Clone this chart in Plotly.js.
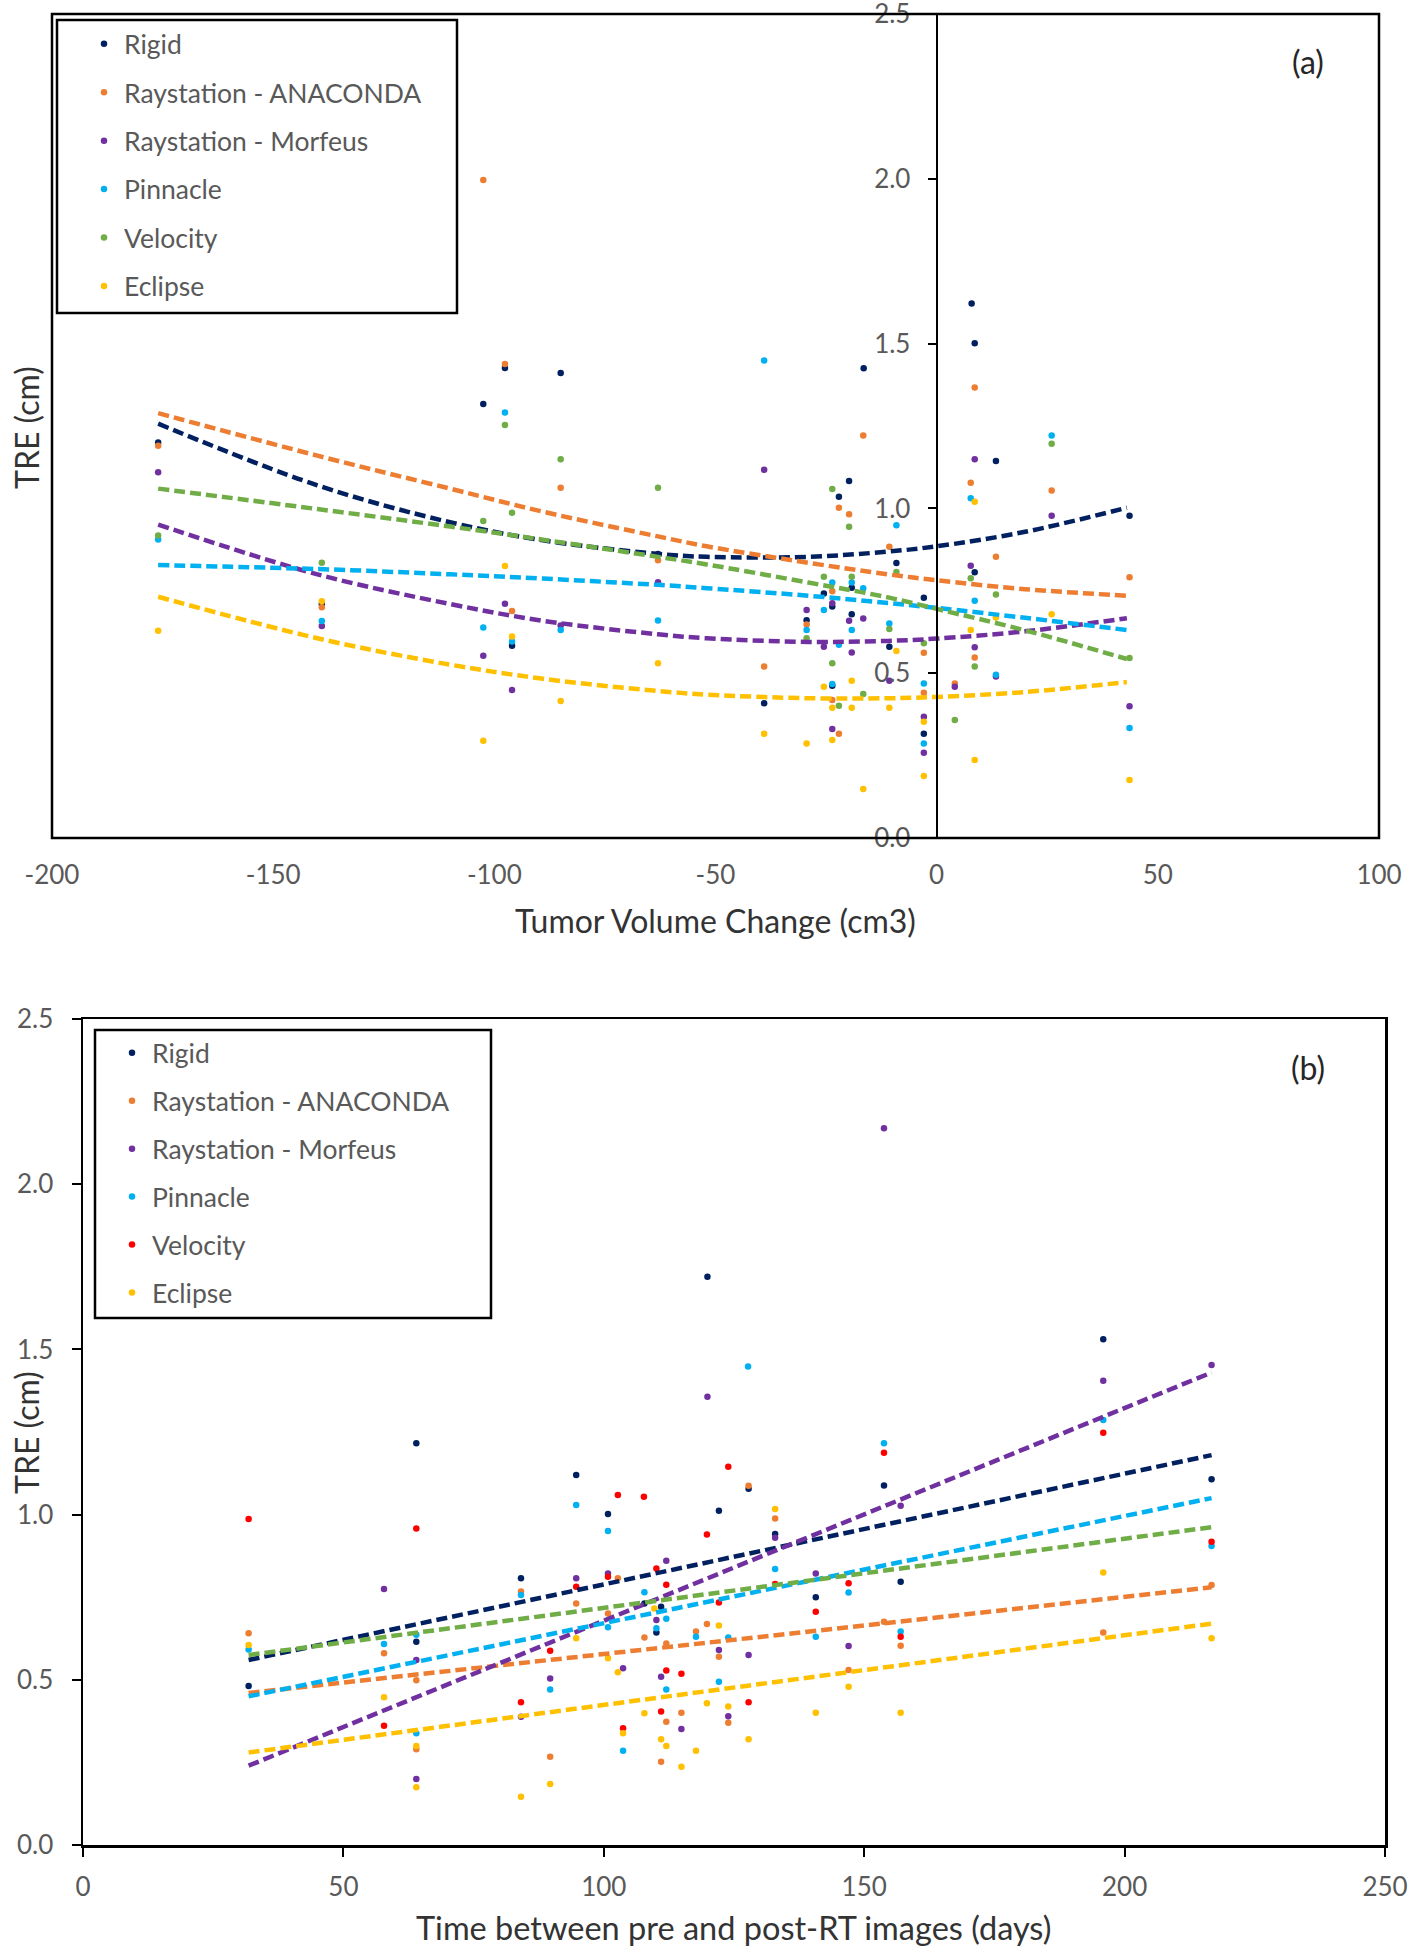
<!DOCTYPE html>
<html>
<head>
<meta charset="utf-8">
<script src="https://cdn.plot.ly/plotly-3.0.1.min.js"></script>
<style>html,body{margin:0;padding:0;background:#fff}#chart{width:1416px;height:1950px}</style>
</head>
<body>
<div id="chart"></div>
<script>
// ---------- series names & colours ----------
const seriesNames = ["Rigid", "Raystation - ANACONDA", "Raystation - Morfeus", "Pinnacle", "Velocity", "Eclipse"];
const colorsA = ["#002060", "#ED7D31", "#7030A0", "#00B0F0", "#70AD47", "#FFC000"];
const colorsB = ["#002060", "#ED7D31", "#7030A0", "#00B0F0", "#FF0000", "#FFC000"];
const trendColorsB = ["#002060", "#ED7D31", "#7030A0", "#00B0F0", "#70AD47", "#FFC000"];

// ---------- panel (a): TRE vs tumor volume change (cm3) ----------
const aRigidX = [-176, -139, -102.5, -97.6, -96, -85, -63, -39, -29.4, -25.5, -23.6, -23.6, -22.1, -19.8, -19.2, -19.2, -16.5, -10.7, -9.1, -2.9, -2.9, 7.9, 8.6, 8.6, 13.4, 43.6];
const aRigidY = [1.20, 0.71, 1.317, 1.426, 0.583, 1.411, 0.862, 0.409, 0.661, 0.742, 0.702, 0.462, 1.035, 1.083, 0.759, 0.679, 1.425, 0.58, 0.834, 0.729, 0.316, 1.622, 1.501, 0.806, 1.144, 0.978];
const aAnaX = [-176, -139, -102.5, -97.6, -96, -85, -63, -39, -29.4, -23.6, -23.6, -22.1, -22.1, -19.8, -16.6, -10.7, -2.9, -2.9, 4.1, 7.7, 8.6, 8.6, 13.4, 26, 43.6];
const aAnaY = [1.19, 0.70, 1.996, 1.438, 0.689, 1.063, 0.843, 0.52, 0.648, 0.749, 0.419, 1.002, 0.316, 0.982, 1.221, 0.884, 0.562, 0.441, 0.469, 1.078, 1.367, 0.548, 0.853, 1.054, 0.791];
const aMorfX = [-176, -139, -102.5, -97.6, -96, -85, -63, -39, -29.4, -25.5, -23.6, -23.6, -19.8, -19.2, -16.6, -10.7, -2.9, -2.9, 4.1, 7.7, 8.6, 8.6, 13.4, 26, 43.6];
const aMorfY = [1.11, 0.643, 0.553, 0.711, 0.449, 0.645, 0.776, 1.117, 0.692, 0.58, 0.712, 0.331, 0.659, 0.563, 0.666, 0.477, 0.368, 0.259, 0.459, 0.826, 1.149, 0.579, 0.49, 0.978, 0.40];
const aPinnX = [-176, -139, -102.5, -97.6, -96, -85, -63, -39, -29.4, -25.5, -23.6, -23.6, -22.1, -19.2, -19.2, -16.6, -10.7, -9.1, -2.9, -2.9, 7.7, 8.6, 13.4, 26, 43.6];
const aPinnY = [0.906, 0.658, 0.639, 1.291, 0.596, 0.631, 0.66, 1.449, 0.631, 0.692, 0.775, 0.467, 0.586, 0.775, 0.631, 0.758, 0.651, 0.949, 0.469, 0.287, 1.031, 0.72, 0.495, 1.221, 0.334];
const aVelX = [-176, -139, -102.5, -97.6, -96, -85, -63, -29.4, -25.5, -23.6, -23.6, -22.1, -19.8, -19.2, -16.6, -10.7, -9.1, -2.9, 4.1, 7.7, 8.6, 13.4, 26, 43.6];
const aVelY = [0.918, 0.835, 0.962, 1.253, 0.987, 1.149, 1.063, 0.606, 0.793, 1.059, 0.53, 0.401, 0.944, 0.793, 0.437, 0.634, 0.807, 0.591, 0.358, 0.788, 0.52, 0.739, 1.196, 0.546];
const aEclX = [-176, -139, -102.5, -97.6, -96, -85, -63, -39, -29.4, -25.5, -23.6, -23.6, -19.2, -19.2, -16.6, -10.7, -9.1, -2.9, -2.9, 7.7, 8.6, 8.6, 13.4, 26, 43.6];
const aEclY = [0.629, 0.718, 0.295, 0.825, 0.611, 0.416, 0.53, 0.316, 0.287, 0.459, 0.395, 0.297, 0.477, 0.395, 0.149, 0.395, 0.567, 0.353, 0.188, 0.631, 1.02, 0.237, 0.669, 0.679, 0.176];

// polynomial trendlines of panel (a)
const aTrendX = [-176, -140, -110, -89, -63, -52, -29, -11, 0, 20, 43];
const aTrendRigid = [1.257, 1.07, 0.958, 0.903, 0.862, 0.853, 0.853, 0.869, 0.885, 0.929, 1.002];
const aTrendAna = [1.289, 1.16, 1.06, 0.99, 0.915, 0.885, 0.835, 0.80, 0.782, 0.755, 0.735];
const aTrendMorf = [0.951, 0.80, 0.71, 0.659, 0.618, 0.606, 0.595, 0.598, 0.605, 0.627, 0.667];
const aTrendPinn = [0.828, 0.816, 0.80, 0.787, 0.768, 0.758, 0.735, 0.713, 0.698, 0.668, 0.631];
const aTrendVel = [1.06, 0.998, 0.945, 0.905, 0.853, 0.83, 0.775, 0.73, 0.695, 0.63, 0.543];
const aTrendEcl = [0.732, 0.606, 0.526, 0.483, 0.446, 0.435, 0.424, 0.424, 0.428, 0.443, 0.473];

// ---------- panel (b): TRE vs time between pre and post-RT images (days) ----------
const bRigidX = [31.8, 64, 64, 84.1, 94.7, 100.8, 107.8, 110.1, 111, 119.9, 122.1, 127.8, 132.9, 140.7, 153.8, 157, 195.9, 216.7];
const bRigidY = [0.481, 1.216, 0.615, 0.807, 1.12, 1.002, 0.731, 0.643, 0.721, 1.72, 1.012, 1.078, 0.941, 0.75, 1.088, 0.797, 1.531, 1.107];
const bAnaX = [31.8, 57.8, 64, 64, 84.1, 89.7, 94.7, 100.8, 102.7, 107.8, 111, 112, 112, 114.9, 117.7, 119.8, 122.1, 123.9, 127.8, 132.9, 147, 153.8, 157, 195.9, 216.7];
const bAnaY = [0.641, 0.58, 0.499, 0.29, 0.767, 0.267, 0.731, 0.701, 0.807, 0.628, 0.252, 0.61, 0.373, 0.40, 0.646, 0.669, 0.57, 0.37, 1.087, 0.988, 0.53, 0.676, 0.603, 0.643, 0.787];
const bMorfX = [57.8, 64, 64, 84.1, 89.7, 94.7, 100.8, 103.7, 110.1, 111, 112, 114.9, 119.9, 122.1, 123.9, 127.8, 132.9, 140.7, 147, 153.8, 157, 195.9, 216.7];
const bMorfY = [0.775, 0.56, 0.20, 0.388, 0.504, 0.807, 0.822, 0.535, 0.681, 0.509, 0.86, 0.351, 1.357, 0.59, 0.39, 0.575, 0.93, 0.822, 0.602, 2.169, 1.027, 1.405, 1.453];
const bPinnX = [31.8, 57.8, 64, 64, 84.1, 89.7, 94.7, 100.8, 100.8, 103.7, 107.8, 110.1, 112, 112, 117.7, 122.1, 123.9, 127.7, 132.9, 140.7, 147, 153.8, 157, 195.9, 216.7];
const bPinnY = [0.592, 0.608, 0.636, 0.338, 0.757, 0.471, 1.029, 0.95, 0.659, 0.285, 0.765, 0.656, 0.685, 0.471, 0.63, 0.494, 0.628, 1.448, 0.835, 0.63, 0.764, 1.216, 0.646, 1.286, 0.905];
const bVelX = [31.8, 57.8, 64, 84.1, 89.7, 94.7, 100.8, 102.7, 103.7, 107.7, 110.1, 111, 112, 112, 114.9, 119.8, 122.1, 123.9, 127.8, 132.9, 140.7, 147, 153.8, 157, 195.9, 216.7];
const bVelY = [0.987, 0.361, 0.958, 0.432, 0.588, 0.782, 0.812, 1.059, 0.353, 1.054, 0.837, 0.404, 0.788, 0.528, 0.518, 0.94, 0.734, 1.145, 0.432, 0.79, 0.706, 0.792, 1.187, 0.63, 1.248, 0.918];
const bEclX = [31.8, 57.8, 64, 64, 84.1, 89.7, 94.7, 100.8, 102.7, 103.7, 107.8, 109.7, 111, 112, 114.9, 117.7, 119.8, 122.1, 123.9, 127.8, 132.9, 140.7, 147, 157, 195.9, 216.7];
const bEclY = [0.605, 0.447, 0.30, 0.175, 0.146, 0.185, 0.626, 0.565, 0.523, 0.338, 0.399, 0.716, 0.32, 0.30, 0.237, 0.285, 0.429, 0.664, 0.419, 0.32, 1.017, 0.40, 0.479, 0.40, 0.825, 0.626];

// linear trendlines of panel (b), end values
const bTrendX = [31.8, 216.7];
const bTrendRigid = [0.56, 1.18];
const bTrendAna = [0.46, 0.78];
const bTrendMorf = [0.24, 1.43];
const bTrendPinn = [0.45, 1.05];
const bTrendVel = [0.575, 0.962];
const bTrendEcl = [0.28, 0.67];

// ---------- axis settings ----------
const xRangeA = [-200, 100];
const xTickValsA = [-200, -150, -100, -50, 0, 50, 100];
const xTickTextA = ["-200", "-150", "-100", "-50", "0", "50", "100"];
const xRangeB = [0, 250];
const yRange = [0, 2.5];
const xTickStep = 50;
const yTickStep = 0.5;

// ---------- build traces ----------
const W = 1416, H = 1950;
const aX = [aRigidX, aAnaX, aMorfX, aPinnX, aVelX, aEclX];
const aY = [aRigidY, aAnaY, aMorfY, aPinnY, aVelY, aEclY];
const aT = [aTrendRigid, aTrendAna, aTrendMorf, aTrendPinn, aTrendVel, aTrendEcl];
const bX = [bRigidX, bAnaX, bMorfX, bPinnX, bVelX, bEclX];
const bY = [bRigidY, bAnaY, bMorfY, bPinnY, bVelY, bEclY];
const bT = [bTrendRigid, bTrendAna, bTrendMorf, bTrendPinn, bTrendVel, bTrendEcl];

const traces = [];
seriesNames.forEach((n, i) => {
  traces.push({type: 'scatter', mode: 'markers', x: aX[i], y: aY[i], name: n,
    xaxis: 'x', yaxis: 'y', legend: 'legend', legendgroup: 'a' + i,
    marker: {color: colorsA[i], size: 6.5}, cliponaxis: false});
});
seriesNames.forEach((n, i) => {
  traces.push({type: 'scatter', mode: 'markers', x: bX[i], y: bY[i], name: n,
    xaxis: 'x2', yaxis: 'y2', legend: 'legend2', legendgroup: 'b' + i,
    marker: {color: colorsB[i], size: 6.5}, cliponaxis: false});
});
seriesNames.forEach((n, i) => {
  traces.push({type: 'scatter', mode: 'lines', x: aTrendX, y: aT[i], name: n + ' trend',
    xaxis: 'x', yaxis: 'y', showlegend: false, legendgroup: 'a' + i, hoverinfo: 'skip',
    line: {color: colorsA[i], width: 4.5, dash: '11px,5px', shape: 'spline', smoothing: 1}});
});
seriesNames.forEach((n, i) => {
  traces.push({type: 'scatter', mode: 'lines', x: bTrendX, y: bT[i], name: n + ' trend',
    xaxis: 'x2', yaxis: 'y2', showlegend: false, legendgroup: 'b' + i, hoverinfo: 'skip',
    line: {color: trendColorsB[i], width: 4.5, dash: '11px,5px'}});
});

// ---------- layout ----------
const xDomA = [52 / W, 1379 / W];
const yDomA = [1 - 838 / H, 1 - 14 / H];
const xDomB = [83 / W, 1385 / W];
const yDomB = [1 - 1845 / H, 1 - 1019 / H];
const yAxisPosA = xDomA[0] + (0 - xRangeA[0]) / (xRangeA[1] - xRangeA[0]) * (xDomA[1] - xDomA[0]);

const FONT = 'Lato, "Open Sans", sans-serif';
const tickFont = {family: FONT, size: 26, color: '#595959'};
const titleFont = {family: FONT, size: 32, color: '#333333'};
const legendFont = {family: FONT, size: 26.5, color: '#595959'};

const layout = {
  width: W, height: H,
  margin: {l: 0, r: 0, t: 0, b: 0, pad: 0},
  paper_bgcolor: '#ffffff', plot_bgcolor: 'rgba(0,0,0,0)',
  font: {family: FONT, size: 26, color: '#595959'},
  showlegend: true,
  hovermode: false,
  xaxis: {domain: xDomA, range: xRangeA, anchor: 'y', tickmode: 'array',
    tickvals: xTickValsA, ticktext: xTickTextA,
    showgrid: false, zeroline: false, showline: false, ticks: '',
    ticklabelstandoff: 19, tickfont: tickFont, fixedrange: true},
  yaxis: {domain: yDomA, range: yRange, anchor: 'free', position: yAxisPosA, side: 'left',
    tick0: 0, dtick: yTickStep, tickformat: '.1f', ticklabeloverflow: 'allow',
    showgrid: false, zeroline: false, showline: true, linecolor: '#000', linewidth: 2,
    ticks: 'outside', ticklen: 8, tickwidth: 2, tickcolor: '#000',
    ticklabelstandoff: 12, tickfont: tickFont, fixedrange: true},
  xaxis2: {domain: xDomB, range: xRangeB, anchor: 'y2', tick0: 0, dtick: xTickStep,
    showgrid: false, zeroline: false, showline: true, mirror: true, linecolor: '#000', linewidth: 2.5,
    ticks: 'outside', ticklen: 9, tickwidth: 2, tickcolor: '#000',
    ticklabelstandoff: 8, tickfont: tickFont, fixedrange: true},
  yaxis2: {domain: yDomB, range: yRange, anchor: 'x2', tick0: 0, dtick: yTickStep, tickformat: '.1f',
    showgrid: false, zeroline: false, showline: true, mirror: true, linecolor: '#000', linewidth: 2.5,
    ticks: 'outside', ticklen: 9, tickwidth: 2, tickcolor: '#000',
    ticklabelstandoff: 13, tickfont: tickFont, fixedrange: true},
  legend: {x: 84 / W, y: 1 - 20 / H, xanchor: 'left', yanchor: 'top', xref: 'paper', yref: 'paper',
    bgcolor: 'rgba(0,0,0,0)', borderwidth: 0, font: legendFont, tracegroupgap: 11,
    traceorder: 'grouped', itemclick: false, itemdoubleclick: false},
  legend2: {x: 112 / W, y: 1 - 1029 / H, xanchor: 'left', yanchor: 'top', xref: 'paper', yref: 'paper',
    bgcolor: 'rgba(0,0,0,0)', borderwidth: 0, font: legendFont, tracegroupgap: 10.5,
    traceorder: 'grouped', itemclick: false, itemdoubleclick: false},
  shapes: [
    {type: 'rect', xref: 'x domain', yref: 'y domain', x0: 0, x1: 1, y0: 0, y1: 1,
      line: {color: '#000', width: 2.5}, layer: 'above'},
    {type: 'rect', xref: 'paper', yref: 'paper', x0: 57 / W, x1: 457 / W, y0: 1 - 20 / H, y1: 1 - 313 / H,
      line: {color: '#000', width: 2.5}, fillcolor: 'rgba(0,0,0,0)', layer: 'above'},
    {type: 'rect', xref: 'paper', yref: 'paper', x0: 95 / W, x1: 491 / W, y0: 1 - 1030 / H, y1: 1 - 1318 / H,
      line: {color: '#000', width: 2.5}, fillcolor: 'rgba(0,0,0,0)', layer: 'above'}
  ],
  annotations: [
    {text: '(a)', xref: 'paper', yref: 'paper', x: 1308 / W, y: 1 - 61 / H, showarrow: false,
      xanchor: 'center', yanchor: 'middle', font: {family: FONT, size: 32, color: '#262626'}},
    {text: '(b)', xref: 'paper', yref: 'paper', x: 1308 / W, y: 1 - 1067 / H, showarrow: false,
      xanchor: 'center', yanchor: 'middle', font: {family: FONT, size: 32, color: '#262626'}},
    {text: 'Tumor Volume Change (cm3)', xref: 'paper', yref: 'paper', x: 715 / W, y: 1 - 920 / H,
      showarrow: false, xanchor: 'center', yanchor: 'middle', font: titleFont},
    {text: 'Time between pre and post-RT images (days)', xref: 'paper', yref: 'paper', x: 733 / W, y: 1 - 1927 / H,
      showarrow: false, xanchor: 'center', yanchor: 'middle', font: {family: FONT, size: 32.5, color: '#333333'}},
    {text: 'TRE (cm)', xref: 'paper', yref: 'paper', x: 26 / W, y: 1 - 428 / H, textangle: -90,
      showarrow: false, xanchor: 'center', yanchor: 'middle', font: titleFont},
    {text: 'TRE (cm)', xref: 'paper', yref: 'paper', x: 26 / W, y: 1 - 1433 / H, textangle: -90,
      showarrow: false, xanchor: 'center', yanchor: 'middle', font: titleFont}
  ]
};

Plotly.newPlot('chart', traces, layout, {displayModeBar: false, staticPlot: true});
</script>
</body>
</html>
